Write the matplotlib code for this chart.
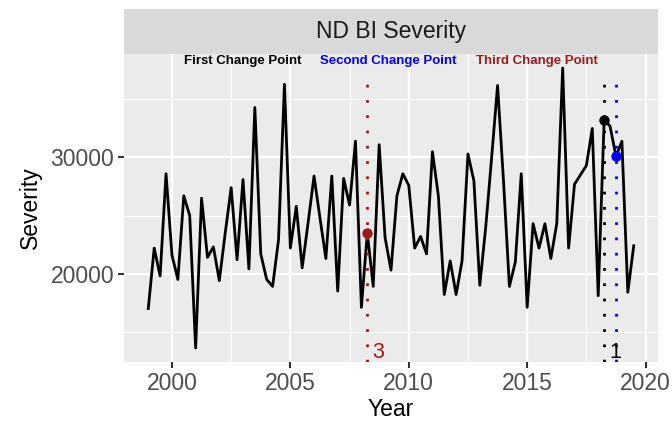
import numpy as np
import matplotlib.pyplot as plt

plt.rcParams['font.family'] = ['Liberation Sans', 'DejaVu Sans']

# quarterly severity, 1999 Q1 .. 2019 Q3
year = 1999 + 0.25 * np.arange(83)
severity = [
    17000, 22200, 19800, 28600, 21600, 19500, 26700, 25000, 13600, 26500,
    21400, 22300, 19400, 23500, 27400, 21200, 28100, 20400, 34300, 21700,
    19500, 18900, 22900, 36300, 22200, 25800, 20500, 24400, 28400, 24800,
    21300, 28400, 18500, 28200, 25900, 31400, 17100, 23500, 18900, 31100,
    23100, 20300, 26700, 28600, 27600, 22200, 23200, 21700, 30500, 26700,
    18200, 21100, 18200, 21100, 30300, 28000, 19000, 24000, 30000, 36200,
    28000, 18900, 21000, 28600, 17100, 24300, 22200, 24300, 21300, 24300,
    37700, 22200, 27700, 28500, 29300, 32500, 18100, 33200, 32700, 30100,
    31400, 18400, 22400,
]

cp_years = [2018.25, 2018.75, 2008.25]
cp_values = [33200, 30100, 23500]
cp_colors = ['black', '#0000FF', '#9B1C1C']
cp_names = ['First Change Point', 'Second Change Point', 'Third Change Point']
name_x = [2003.0, 2009.13, 2015.42]
rank_labels = [('1', 2018.25, 'black'), ('3', 2008.25, '#9B1C1C')]

fig = plt.figure(figsize=(6.72, 4.23), dpi=100)
ax = fig.add_axes([124 / 672, 61 / 423, 534 / 672, 308 / 423])
ax.set_facecolor('#EBEBEB')

ax.plot(year, severity, color='black', lw=2.0, zorder=3)
ax.margins(x=0.05, y=0.05)

for x, v, c in zip(cp_years, cp_values, cp_colors):
    ax.axvline(x, ymin=0, ymax=0.932, color=c, ls=(0, (1, 4.5)), lw=2.0, zorder=4)
    ax.plot(x, v, 'o', color=c, ms=6.5, zorder=5)

ymax_txt = 38260
for name, x, c in zip(cp_names, name_x, cp_colors):
    ax.text(x, ymax_txt, name, color=c, fontsize=9.5, fontweight='bold',
            ha='center', va='center', zorder=6)

ybot = 13200
for lab, x, c in rank_labels:
    ax.text(x + 0.47, ybot, lab, color=c, fontsize=15.5, ha='center',
            va='center', zorder=6)

ax.set_xticks([2000, 2005, 2010, 2015, 2020])
ax.set_xticks([2002.5, 2007.5, 2012.5, 2017.5], minor=True)
ax.set_yticks([20000, 30000])
ax.set_yticks([15000, 25000, 35000], minor=True)
ax.grid(which='major', color='white', lw=1.6)
ax.grid(which='minor', color='white', lw=0.8)
ax.set_axisbelow(True)
for s in ax.spines.values():
    s.set_visible(False)
ax.tick_params(which='major', length=4, width=1.5, color='#333333',
               labelsize=16.5, labelcolor='#4D4D4D', pad=3)
ax.tick_params(which='minor', length=0)

ax.set_xlabel('Year', fontsize=16.5, labelpad=2)
ax.set_ylabel('Severity', fontsize=16.5, labelpad=6)

# facet strip
strip = fig.add_axes([124 / 672, 369 / 423, 534 / 672, 45 / 423])
strip.set_facecolor('#D9D9D9')
strip.set_xticks([])
strip.set_yticks([])
for s in strip.spines.values():
    s.set_visible(False)
strip.text(0.5, 0.5, 'ND BI Severity', fontsize=16.5, color='#1A1A1A',
           ha='center', va='center', transform=strip.transAxes)

fig.savefig('out.png', dpi=100)
